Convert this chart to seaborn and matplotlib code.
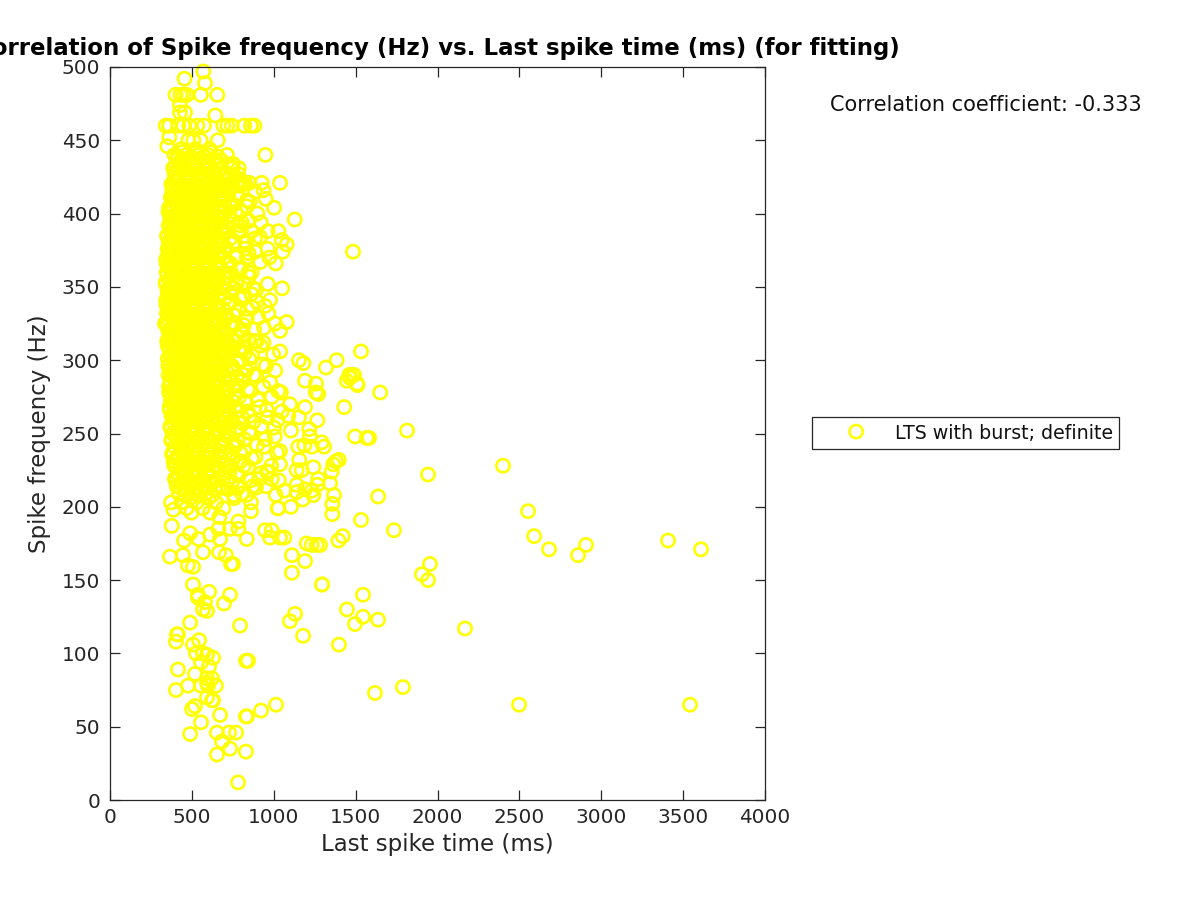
import numpy as np
import pandas as pd
import matplotlib
matplotlib.use("Agg")
import matplotlib.pyplot as plt
import seaborn as sns

# --- values ---
X_TICKS = [0, 500, 1000, 1500, 2000, 2500, 3000, 3500, 4000]
Y_TICKS = [0, 50, 100, 150, 200, 250, 300, 350, 400, 450, 500]

# isolated points, outer part of the cloud
sparse_time = [570, 455, 580, 400, 430, 450, 470, 555, 655, 427, 427, 458, 643,
               340, 362, 417, 448, 485, 533, 574, 692, 717, 743, 820, 861, 882, 362, 350,
               478, 509, 554, 658, 949, 750, 590, 784, 650, 672, 774, 798, 825, 851, 926, 1038,
               723, 886, 937, 951, 733, 835, 1002, 900, 1128,
               1484, 1533, 1510, 1650, 1465, 1490, 1430, 1496, 1582, 1814, 1942, 2400, 2553, 2590,
               2681, 2858, 2907, 3408, 3609, 1734, 1637, 1533, 1954, 1905, 1942, 2168, 1545, 1545,
               1637, 1496, 1447, 1398, 1618, 1789, 2498, 3542, 1014, 922, 830, 830, 782, 733, 653,
               684, 653, 727, 770, 489, 403, 476, 415, 519, 556, 672, 837, 501, 519, 592, 623, 629,
               556, 598, 647, 623, 592, 592, 605, 556, 629, 592, 568, 525, 507, 544, 403, 409, 415,
               489, 794, 843, 831, 592, 568, 580, 537, 537, 605, 696, 733, 507, 1295, 1111, 1191,
               1111, 1295, 1099, 1130, 1179, 366, 446, 476, 507, 568, 666, 708, 739, 751,
               373, 387, 377, 452, 489, 540, 611, 672, 662, 733, 784, 784, 835, 668, 947, 988, 977,
               1038, 1065, 1201, 1232, 1262, 1283, 1395, 1421, 1024, 1028, 1105, 861, 861, 1358,
               1358, 1368, 1344, 1354, 1364, 1380, 1397, 1242, 1140, 1171, 1156, 1150, 1187, 1232,
               1293, 1307, 1217, 1221, 1105, 1266, 1154, 1089, 1191, 1038, 1038, 1140, 1140, 1191,
               1232, 1272, 1266, 1242, 1177, 1065, 953, 988, 957, 1568, 1446, 1462, 1482, 1511,
               1384, 1319, 1154, 1181, 1038, 1191, 1258, 1272, 1256, 1099, 1079, 1038, 1008, 906,
               967, 937, 896, 794, 825, 814, 703, 1051, 963, 875, 774, 820, 977, 896, 947, 845,
               865, 1012, 973, 963, 1055, 1079, 1049, 1028, 963, 916, 865, 886, 835, 825, 794,
               845, 920]
sparse_freq = [497, 492, 489, 481, 481, 481, 481, 481, 481, 474, 469, 469, 467,
               460, 460, 460, 460, 460, 460, 460, 460, 460, 460, 460, 460, 460, 452, 446,
               450, 450, 450, 450, 440, 431, 431, 427, 421, 421, 421, 421, 421, 421, 421, 421,
               415, 415, 416, 410, 405, 405, 404, 400, 396,
               374, 306, 284, 278, 288, 290, 268, 248, 247, 252, 222, 228, 197, 180,
               171, 167, 174, 177, 171, 184, 207, 191, 161, 154, 150, 117, 140, 125,
               123, 120, 130, 106, 73, 77, 65, 65, 65, 61, 57, 33, 12, 35, 31,
               40, 46, 46, 46, 45, 75, 78, 89, 86, 53, 58, 57, 62, 64, 70, 68, 68,
               78, 78, 78, 83, 83, 80, 91, 94, 97, 99, 100, 100, 106, 109, 108, 113, 113,
               121, 119, 95, 95, 129, 130, 135, 138, 140, 142, 134, 140, 147, 147, 155, 163,
               167, 147, 122, 127, 112, 166, 167, 160, 159, 169, 169, 167, 161, 161,
               203, 198, 187, 177, 182, 178, 181, 178, 185, 185, 190, 185, 178, 193, 184, 184, 179,
               179, 179, 175, 174, 174, 174, 177, 180, 199, 199, 200, 197, 203, 195,
               202, 208, 216, 224, 229, 231, 232, 227, 225, 225, 232, 241, 242, 241,
               244, 241, 253, 248, 252, 259, 261, 262, 268, 229, 238, 215, 210, 212,
               211, 219, 215, 208, 205, 211, 214, 219, 224, 247, 286, 290, 290, 283,
               300, 295, 300, 298, 306, 286, 284, 277, 278, 270, 326, 320, 325, 329,
               332, 312, 313, 307, 305, 318, 305, 349, 352, 349, 352, 344, 341, 340, 337, 360,
               360, 366, 370, 376, 374, 379, 382, 388, 388, 384, 388, 374, 370, 381, 392,
               395, 394]

# dense part of the cloud: a few times for each frequency, low to high
freq_levels = [196, 199, 203, 206, 209, 212, 214, 217, 219, 222, 224, 227, 229, 231, 234,
               236, 238, 241, 243, 245, 248, 250, 252, 255, 257, 259, 262, 264, 266, 269,
               271, 273, 276, 278, 280, 283, 285, 287, 290, 292, 294, 297, 299, 301, 304,
               306, 308, 311, 313, 315, 318, 320, 322, 325, 327, 329, 332, 334, 336, 339,
               341, 343, 346, 348, 350, 353, 355, 357, 360, 362, 364, 367, 369, 371, 374,
               376, 378, 381, 383, 385, 388, 390, 392, 395, 397, 399, 402, 404, 406, 409,
               411, 413, 416, 418, 420, 423, 425, 428, 431, 434, 437, 440, 444]
level_times = [
    [497, 611],
    [468, 566, 693],
    [436, 529, 648],
    [489, 602, 760],
    [421, 518, 583, 806],
    [453, 547, 639, 722],
    [408, 492, 574, 668, 871],
    [437, 526, 613, 745],
    [396, 471, 555, 692, 912],
    [418, 508, 597, 781],
    [445, 533, 628, 729, 968],
    [404, 482, 569, 655, 843],
    [427, 514, 603, 707],
    [388, 463, 541, 622, 796],
    [412, 497, 578, 676, 889],
    [379, 449, 523, 608, 735],
    [431, 505, 590, 664, 822],
    [395, 476, 558, 633, 752, 941],
    [417, 489, 571, 689],
    [374, 441, 530, 615, 778],
    [403, 467, 548, 643, 717, 1006],
    [383, 456, 516, 594, 862],
    [425, 501, 577, 671, 768],
    [369, 438, 522, 606, 701, 925],
    [391, 472, 552, 639, 809],
    [410, 486, 567, 625, 744, 1024],
    [376, 447, 511, 589, 683, 854],
    [400, 469, 543, 618, 731],
    [366, 429, 506, 583, 660, 787, 958],
    [388, 457, 535, 599, 711],
    [413, 479, 560, 647, 831],
    [372, 443, 519, 592, 680, 902],
    [397, 465, 538, 612, 758],
    [361, 428, 500, 575, 656, 1044],
    [384, 452, 527, 604, 697, 840],
    [406, 474, 551, 630, 772],
    [369, 435, 510, 585, 669, 978],
    [392, 460, 532, 609, 723],
    [358, 423, 494, 568, 644, 815, 877],
    [381, 447, 517, 596, 686],
    [402, 470, 545, 621, 749],
    [365, 431, 503, 580, 661, 930],
    [389, 455, 528, 601, 705, 794],
    [353, 418, 486, 561, 637, 850],
    [375, 441, 512, 587, 674, 996],
    [398, 466, 539, 616, 738],
    [360, 426, 495, 572, 651, 821],
    [383, 450, 520, 593, 695],
    [349, 412, 480, 554, 628, 766, 883],
    [371, 437, 507, 582, 665],
    [394, 461, 534, 607, 715],
    [356, 421, 491, 563, 641, 804],
    [378, 445, 515, 588, 678, 940],
    [335, 401, 468, 542, 619, 752],
    [363, 429, 499, 574, 654],
    [386, 452, 524, 598, 702, 836],
    [347, 414, 482, 556, 632],
    [372, 439, 509, 584, 668, 783],
    [352, 419, 488, 565, 643, 869],
    [380, 446, 518, 595, 726],
    [343, 407, 475, 549, 624],
    [367, 433, 504, 577, 659, 812],
    [390, 458, 531, 605, 741],
    [351, 416, 484, 559, 635, 892],
    [374, 442, 513, 590, 682],
    [340, 404, 472, 546, 623, 770],
    [362, 427, 498, 570, 650],
    [385, 451, 525, 600, 708, 848],
    [346, 411, 479, 553, 629],
    [369, 436, 506, 581, 663, 790],
    [355, 420, 490, 562, 646],
    [381, 448, 519, 597, 719, 918],
    [343, 408, 477, 550, 626],
    [366, 432, 502, 576, 655, 776],
    [391, 459, 533, 610, 699],
    [352, 417, 485, 560, 640, 826],
    [376, 444, 516, 591, 672],
    [360, 425, 496, 569, 649, 762],
    [386, 454, 526, 603, 733, 885],
    [348, 415, 483, 557, 634],
    [373, 440, 511, 586, 677, 801],
    [393, 462, 536, 614, 712],
    [359, 424, 493, 567, 652],
    [382, 450, 523, 599, 746, 848],
    [368, 434, 505, 579, 670],
    [399, 464, 540, 620, 728],
    [377, 443, 514, 592, 687, 798],
    [361, 430, 501, 573, 658],
    [405, 473, 547, 631, 754],
    [384, 453, 528, 611, 700, 836],
    [372, 438, 510, 589, 665],
    [396, 468, 544, 627, 775],
    [381, 449, 521, 602, 690],
    [409, 478, 556, 642, 738],
    [375, 445, 518, 595, 681, 812],
    [392, 461, 537, 617, 722],
    [417, 487, 564, 650, 765],
    [401, 470, 549, 634, 704],
    [386, 458, 531, 613, 786],
    [426, 497, 578, 661, 751],
    [410, 481, 555, 636],
    [394, 466, 542, 598, 714],
    [436, 520, 607],
]

# second pass over the same cloud, frequencies between the rows above
extra_levels = [208, 213, 218, 223, 228, 233, 237, 242, 246, 251, 254, 258, 261, 265, 268,
                272, 275, 279, 282, 286, 289, 293, 296, 300, 303, 307, 310, 314, 317, 321,
                324, 328, 331, 335, 338, 342, 345, 349, 352, 356, 359, 363, 366, 370, 373,
                377, 380, 384, 387, 391, 394, 398, 401, 405, 408, 412, 415, 419, 422, 427,
                430, 433, 436, 439, 442]
extra_times = [
    [459, 541, 627, 758, 833, 1012],
    [428, 512, 596, 684, 782, 891],
    [405, 484, 559, 647, 716, 859, 1031],
    [442, 525, 603, 698, 773, 924],
    [393, 476, 563, 636, 739, 817, 984],
    [419, 501, 585, 666, 752, 866],
    [386, 463, 542, 619, 706, 794, 1019],
    [434, 517, 599, 681, 769, 898],
    [377, 455, 538, 612, 692, 821, 947],
    [408, 489, 570, 653, 727, 848],
    [370, 448, 531, 604, 688, 779, 1002],
    [422, 507, 582, 663, 741, 876],
    [383, 464, 547, 625, 711, 807, 962],
    [399, 481, 561, 642, 725, 841, 1049],
    [364, 444, 523, 608, 685, 762, 913],
    [415, 497, 576, 657, 748, 825],
    [378, 458, 539, 621, 703, 788, 988],
    [391, 472, 553, 634, 719, 858, 1027],
    [360, 437, 519, 601, 676, 755, 936],
    [407, 486, 568, 649, 734, 811],
    [374, 452, 534, 615, 696, 776, 894],
    [388, 469, 549, 628, 709, 833, 1009],
    [356, 433, 514, 593, 671, 747, 952],
    [401, 479, 557, 638, 722, 799],
    [369, 447, 528, 606, 689, 868],
    [384, 461, 543, 623, 702, 785],
    [352, 429, 509, 588, 661, 740, 919],
    [396, 474, 552, 631, 713, 844],
    [364, 441, 521, 600, 680, 768],
    [379, 457, 536, 614, 694, 881],
    [348, 424, 503, 579, 655, 732, 816],
    [389, 467, 546, 626, 707],
    [358, 436, 515, 594, 673, 753],
    [373, 450, 530, 609, 691, 839],
    [344, 420, 499, 575, 651, 729],
    [385, 463, 541, 619, 700, 792],
    [354, 431, 510, 589, 668, 864],
    [368, 446, 525, 603, 683, 759],
    [341, 416, 495, 571, 647, 724, 818],
    [380, 459, 537, 616, 696],
    [350, 427, 505, 584, 662, 743],
    [365, 443, 522, 598, 678, 802],
    [346, 422, 500, 578, 656, 735],
    [376, 454, 532, 611, 693, 771],
    [357, 434, 513, 591, 670, 846],
    [387, 465, 544, 622, 704],
    [362, 440, 520, 597, 675, 756, 829],
    [351, 428, 507, 585, 664],
    [378, 456, 535, 613, 694, 781],
    [366, 445, 524, 602, 684],
    [390, 470, 550, 629, 717, 805],
    [372, 451, 529, 607, 688],
    [358, 438, 516, 595, 674, 767],
    [383, 462, 540, 618, 701],
    [397, 475, 554, 633, 736, 852],
    [376, 455, 533, 610, 692],
    [404, 483, 562, 644, 726],
    [387, 467, 545, 624, 705, 794],
    [412, 491, 572, 654, 748],
    [395, 477, 558, 637, 720],
    [420, 500, 581, 667],
    [403, 485, 566, 645, 733],
    [431, 512, 593, 682],
    [414, 495, 574, 658],
    [443, 528, 612],
]

spike_time = list(sparse_time)
spike_freq = list(sparse_freq)
for level, times in zip(freq_levels + extra_levels, level_times + extra_times):
    spike_time.extend(times)
    spike_freq.extend([level] * len(times))

df = pd.DataFrame({"time": spike_time, "freq": spike_freq})

sns.set_theme(style="ticks")
plt.rcParams["font.family"] = ["DejaVu Sans"]

fig = plt.figure(figsize=(12, 9), dpi=100)
ax = fig.add_axes([110 / 1200, 1 - 800 / 900, 655 / 1200, 733 / 900])

sns.scatterplot(data=df, x="time", y="freq", ax=ax, marker="o", s=90,
                facecolor="none", edgecolor="#ffff00", linewidth=1.9,
                label="LTS with burst; definite", clip_on=False)

ax.set_xlim(0, 4000)
ax.set_ylim(0, 500)
ax.set_xticks(X_TICKS)
ax.set_yticks(Y_TICKS)
ax.tick_params(direction="in", length=7, width=0.9, labelsize=14.4, top=True, right=True,
               color="#262626", labelcolor="#262626")
ax.tick_params(axis="y", pad=7)
ax.tick_params(axis="x", pad=6)
for spine in ax.spines.values():
    spine.set_linewidth(0.9)
    spine.set_color("#262626")
    spine.set_visible(True)

ax.set_xlabel("Last spike time (ms)", fontsize=16.5, color="#262626", labelpad=4)
ax.set_ylabel("Spike frequency (Hz)", fontsize=16.5, color="#262626", labelpad=8)
ax.set_title("Correlation of Spike frequency (Hz) vs. Last spike time (ms) (for fitting)",
             fontsize=16.5, fontweight="bold", color="black", pad=9)

fig.text(830 / 1200, 1 - 105 / 900, "Correlation coefficient: -0.333", fontsize=15,
         color="#111111", va="center", ha="left")

leg = ax.legend(loc="center left", bbox_to_anchor=(812 / 1200, 1 - 433 / 900),
                bbox_transform=fig.transFigure, frameon=True, fancybox=False,
                fontsize=13.7, borderaxespad=0, handletextpad=0.05, borderpad=0.32,
                handlelength=4, handleheight=1.3,
                edgecolor="#262626", framealpha=1)
leg.get_frame().set_linewidth(0.9)
for text in leg.get_texts():
    text.set_color("#111111")

fig.savefig("out.png", dpi=100)
